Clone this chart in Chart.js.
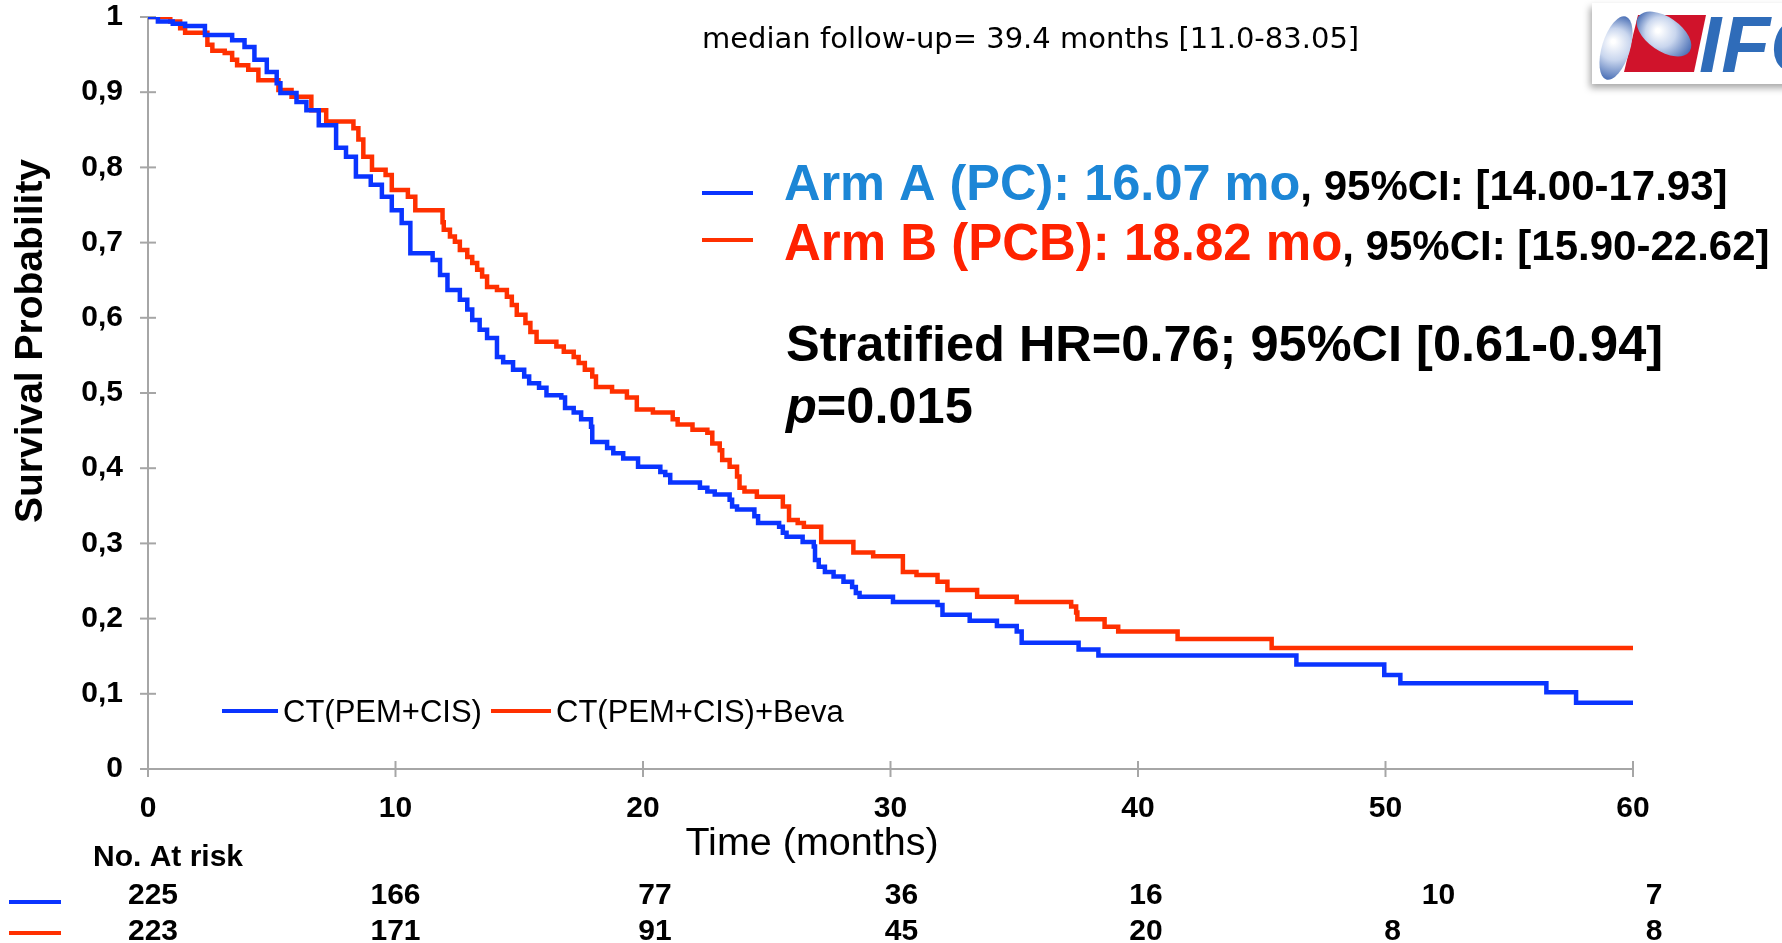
<!DOCTYPE html>
<html>
<head>
<meta charset="utf-8">
<title>Overall survival - Arm A vs Arm B</title>
<script src="https://cdn.jsdelivr.net/npm/chart.js@4.4.1/dist/chart.umd.min.js"></script>
<style>
  html, body { margin: 0; padding: 0; background: #fff; }
  canvas { display: block; }
</style>
</head>
<body>
<canvas id="kmChart" width="1782" height="943"></canvas>
<script>
// Kaplan-Meier steps (months, survival after the drop)
const armATime = [0, 0.4, 1.0, 1.5, 2.3, 3.4, 3.9, 4.3, 4.8, 5.2, 5.35, 6.0, 6.4, 6.9, 7.6, 8.0, 8.4, 9.0, 9.45, 9.85,
  10.25, 10.6, 11.5, 11.8, 12.1, 12.6, 12.9, 13.1, 13.4, 13.7, 14.1, 14.35, 14.75, 15.2, 15.4, 15.8, 16.1, 16.7, 16.85, 17.2,
  17.5, 17.9, 17.95, 18.55, 18.8, 19.2, 19.8, 20.7, 20.9, 21.1, 22.3, 22.6, 22.9, 23.5, 23.6, 23.8, 24.5, 24.65, 25.5, 25.65,
  25.8, 26.45, 26.9, 26.95, 27.1, 27.35, 27.7, 28.1, 28.45, 28.6, 28.75, 30.1, 31.9, 32.1, 33.2, 34.3, 35.1, 35.3, 37.6, 38.4,
  46.4, 49.95, 50.6, 56.5, 57.7, 60];
const armASurv = [1, 0.994, 0.991, 0.988, 0.976, 0.969, 0.96, 0.943, 0.927, 0.912, 0.899, 0.887, 0.876, 0.856, 0.826, 0.814, 0.788, 0.777, 0.761, 0.743,
  0.726, 0.686, 0.677, 0.657, 0.637, 0.624, 0.611, 0.597, 0.584, 0.573, 0.548, 0.541, 0.531, 0.522, 0.513, 0.507, 0.497, 0.494, 0.48, 0.474,
  0.465, 0.455, 0.435, 0.427, 0.42, 0.413, 0.402, 0.395, 0.391, 0.381, 0.374, 0.369, 0.365, 0.358, 0.349, 0.345, 0.336, 0.327, 0.322, 0.314,
  0.309, 0.302, 0.296, 0.278, 0.269, 0.262, 0.256, 0.249, 0.242, 0.234, 0.229, 0.222, 0.218, 0.205, 0.197, 0.19, 0.183, 0.168, 0.159, 0.151,
  0.139, 0.125, 0.114, 0.102, 0.088, 0.088];

const armBTime = [0, 0.9, 1.3, 1.5, 2.4, 2.6, 3.1, 3.4, 3.6, 4.05, 4.46, 5.27, 5.8, 6.6, 7.2, 8.3, 8.5, 8.7, 9.05, 9.6,
  9.85, 10.5, 10.8, 11.9, 11.95, 12.2, 12.4, 12.6, 12.9, 13.1, 13.3, 13.5, 13.7, 14.1, 14.5, 14.7, 14.9, 15.25, 15.45, 15.7,
  16.5, 16.8, 17.2, 17.4, 17.65, 17.95, 18.1, 18.75, 19.35, 19.75, 20.4, 21.2, 21.4, 22.0, 22.6, 22.8, 23.1, 23.2, 23.5, 23.8,
  23.9, 24.1, 24.6, 25.65, 25.9, 26.25, 26.5, 27.2, 28.5, 29.3, 30.5, 31.05, 31.9, 32.3, 33.5, 35.1, 37.3, 37.5, 37.55, 38.65,
  39.2, 41.6, 45.4, 60];
const armBSurv = [1, 0.994, 0.985, 0.979, 0.963, 0.955, 0.952, 0.943, 0.936, 0.93, 0.916, 0.903, 0.894, 0.876, 0.861, 0.852, 0.837, 0.814, 0.797, 0.79,
  0.77, 0.761, 0.743, 0.727, 0.717, 0.708, 0.701, 0.69, 0.681, 0.673, 0.664, 0.655, 0.641, 0.637, 0.628, 0.617, 0.604, 0.593, 0.581, 0.568,
  0.562, 0.555, 0.548, 0.54, 0.531, 0.522, 0.508, 0.502, 0.494, 0.478, 0.474, 0.465, 0.458, 0.451, 0.447, 0.433, 0.424, 0.411, 0.402, 0.389,
  0.374, 0.369, 0.362, 0.349, 0.331, 0.327, 0.322, 0.302, 0.288, 0.283, 0.262, 0.258, 0.249, 0.238, 0.229, 0.222, 0.216, 0.208, 0.199, 0.189,
  0.183, 0.173, 0.161, 0.161];

const xTicks = [0, 10, 20, 30, 40, 50, 60];
const xTickLabels = ["0", "10", "20", "30", "40", "50", "60"];
const yTicks = [0, 0.1, 0.2, 0.3, 0.4, 0.5, 0.6, 0.7, 0.8, 0.9, 1];
const yTickLabels = ["0", "0,1", "0,2", "0,3", "0,4", "0,5", "0,6", "0,7", "0,8", "0,9", "1"];

const seriesNames = ["CT(PEM+CIS)", "CT(PEM+CIS)+Beva"];
const atRiskA = [225, 166, 77, 36, 16, 10, 7];
const atRiskB = [223, 171, 91, 45, 20, 8, 8];

const BLUE = "#0a34ff";
const RED = "#ff3000";
const AXIS = "#a6a6a6";
const SANS = '"Liberation Sans", Arial, sans-serif';

function text(ctx, s, x, y, font, color, align) {
  ctx.font = font;
  ctx.fillStyle = color;
  ctx.textAlign = align || "left";
  ctx.textBaseline = "alphabetic";
  ctx.fillText(s, x, y);
  return ctx.measureText(s).width;
}

function line(ctx, x1, y1, x2, y2, color, w) {
  ctx.beginPath();
  ctx.strokeStyle = color;
  ctx.lineWidth = w;
  ctx.moveTo(x1, y1);
  ctx.lineTo(x2, y2);
  ctx.stroke();
}

function drawLogo(ctx) {
  ctx.save();
  ctx.shadowColor = "rgba(0,0,0,0.35)";
  ctx.shadowBlur = 7;
  ctx.shadowOffsetY = 4;
  ctx.shadowOffsetX = -2;
  ctx.fillStyle = "#fff";
  ctx.fillRect(1592, 3, 200, 81);
  ctx.restore();

  ctx.fillStyle = "#d0132b";
  ctx.beginPath();
  ctx.moveTo(1638, 15);
  ctx.lineTo(1706, 15);
  ctx.lineTo(1694, 72);
  ctx.lineTo(1624, 72);
  ctx.closePath();
  ctx.fill();

  const lobe = (cx, cy, rx, ry, rot) => {
    const g = ctx.createRadialGradient(cx - rx * 0.2, cy - ry * 0.2, 2, cx, cy, Math.max(rx, ry));
    g.addColorStop(0, "#ffffff");
    g.addColorStop(0.45, "#c9d6ee");
    g.addColorStop(1, "#4a6fb5");
    ctx.fillStyle = g;
    ctx.beginPath();
    ctx.ellipse(cx, cy, rx, ry, rot, 0, Math.PI * 2);
    ctx.fill();
  };
  lobe(1616, 48, 14, 33, 0.3);
  lobe(1664, 34, 31, 17, 0.6);

  text(ctx, "IFCT", 1699, 72, "italic bold 80px " + SANS, "#2f6cb9");
}

const overlay = {
  id: "overlay",
  beforeDatasetsDraw(chart) {
    const { ctx, scales: { x, y } } = chart;
    ctx.save();
    const x0 = x.getPixelForValue(0), x1 = x.getPixelForValue(60);
    const y0 = y.getPixelForValue(0), y1 = y.getPixelForValue(1);
    line(ctx, x0, y0, x0, y1, AXIS, 2);
    line(ctx, x0, y0, x1, y0, AXIS, 2);
    yTicks.forEach(v => {
      const py = y.getPixelForValue(v);
      line(ctx, x0 - 8, py, x0 + 8, py, AXIS, 2);
    });
    xTicks.forEach(v => {
      const px = x.getPixelForValue(v);
      line(ctx, px, y0 - 8, px, y0 + 8, AXIS, 2);
    });
    ctx.restore();
  },
  afterDraw(chart) {
    const { ctx, scales: { x } } = chart;
    ctx.save();

    // axis titles
    text(ctx, "Time (months)", 812, 855, "39.5px " + SANS, "#000", "center");
    ctx.save();
    ctx.translate(42, 341);
    ctx.rotate(-Math.PI / 2);
    text(ctx, "Survival Probability", 0, 0, "bold 39px " + SANS, "#000", "center");
    ctx.restore();

    // header note
    text(ctx, "median follow-up= 39.4 months [11.0-83.05]", 702, 48, '29px "DejaVu Sans", sans-serif', "#000");

    // arm summary
    line(ctx, 702, 193, 753, 193, BLUE, 4);
    line(ctx, 702, 240, 753, 240, RED, 4);
    let w = text(ctx, "Arm A (PC): 16.07 mo", 784, 200, "bold 50.5px " + SANS, "#1c86d6");
    text(ctx, ", 95%CI: [14.00-17.93]", 784 + w, 200, "bold 42px " + SANS, "#000");
    w = text(ctx, "Arm B (PCB): 18.82 mo", 784, 260, "bold 51px " + SANS, "#ff2200");
    text(ctx, ", 95%CI: [15.90-22.62]", 784 + w, 260, "bold 42px " + SANS, "#000");

    text(ctx, "Stratified HR=0.76; 95%CI [0.61-0.94]", 786, 361, "bold 50.5px " + SANS, "#000");
    w = text(ctx, "p", 786, 423, "italic bold 50.5px " + SANS, "#000");
    text(ctx, "=0.015", 786 + w, 423, "bold 50.5px " + SANS, "#000");

    // in-plot legend
    line(ctx, 222, 711, 278, 711, BLUE, 4);
    text(ctx, seriesNames[0], 283, 722, "31px " + SANS, "#000");
    line(ctx, 491, 711, 551, 711, RED, 4);
    text(ctx, seriesNames[1], 556, 722, "31px " + SANS, "#000");

    // numbers at risk
    text(ctx, "No. At risk", 93, 866, "bold 30px " + SANS, "#000");
    line(ctx, 9, 902, 61, 902, BLUE, 4);
    line(ctx, 9, 933, 61, 933, RED, 4);
    const shiftA = [5, 0, 12, 11, 8, 53, 21];
    const shiftB = [5, 0, 12, 11, 8, 7, 21];
    xTicks.forEach((m, i) => {
      const px = x.getPixelForValue(m);
      text(ctx, String(atRiskA[i]), px + shiftA[i], 904, "bold 30px " + SANS, "#000", "center");
      text(ctx, String(atRiskB[i]), px + shiftB[i], 940, "bold 30px " + SANS, "#000", "center");
    });

    drawLogo(ctx);
    ctx.restore();
  }
};

const toPoints = (t, s) => t.map((v, i) => ({ x: v, y: s[i] }));

new Chart(document.getElementById("kmChart"), {
  type: "line",
  data: {
    datasets: [
      {
        label: seriesNames[0],
        data: toPoints(armATime, armASurv),
        borderColor: BLUE,
        borderWidth: 4.5,
        stepped: "before",
        pointRadius: 0,
        fill: false
      },
      {
        label: seriesNames[1],
        data: toPoints(armBTime, armBSurv),
        borderColor: RED,
        borderWidth: 4.5,
        stepped: "before",
        pointRadius: 0,
        fill: false
      }
    ]
  },
  options: {
    responsive: false,
    animation: false,
    devicePixelRatio: 1,
    layout: { padding: { left: 0, top: 17, right: 149, bottom: 84 } },
    plugins: {
      legend: { display: false },
      tooltip: { enabled: false }
    },
    scales: {
      x: {
        type: "linear",
        min: 0,
        max: 60,
        afterBuildTicks: s => { s.ticks = xTicks.map(v => ({ value: v })); },
        afterFit: s => { s.height = 90; s.paddingLeft = 0; s.paddingRight = 0; },
        grid: { display: false, drawTicks: false },
        border: { display: false },
        ticks: {
          padding: 22,
          color: "#000",
          font: { family: SANS, size: 30, weight: "bold" },
          callback: (v, i) => xTickLabels[i]
        }
      },
      y: {
        min: 0,
        max: 1,
        afterBuildTicks: s => { s.ticks = yTicks.map(v => ({ value: v })); },
        afterFit: s => { s.width = 148; s.paddingTop = 0; s.paddingBottom = 0; },
        grid: { display: false, drawTicks: false },
        border: { display: false },
        ticks: {
          padding: 25,
          color: "#000",
          font: { family: SANS, size: 30, weight: "bold" },
          callback: (v, i) => yTickLabels[i]
        }
      }
    }
  },
  plugins: [overlay]
});
</script>
</body>
</html>
